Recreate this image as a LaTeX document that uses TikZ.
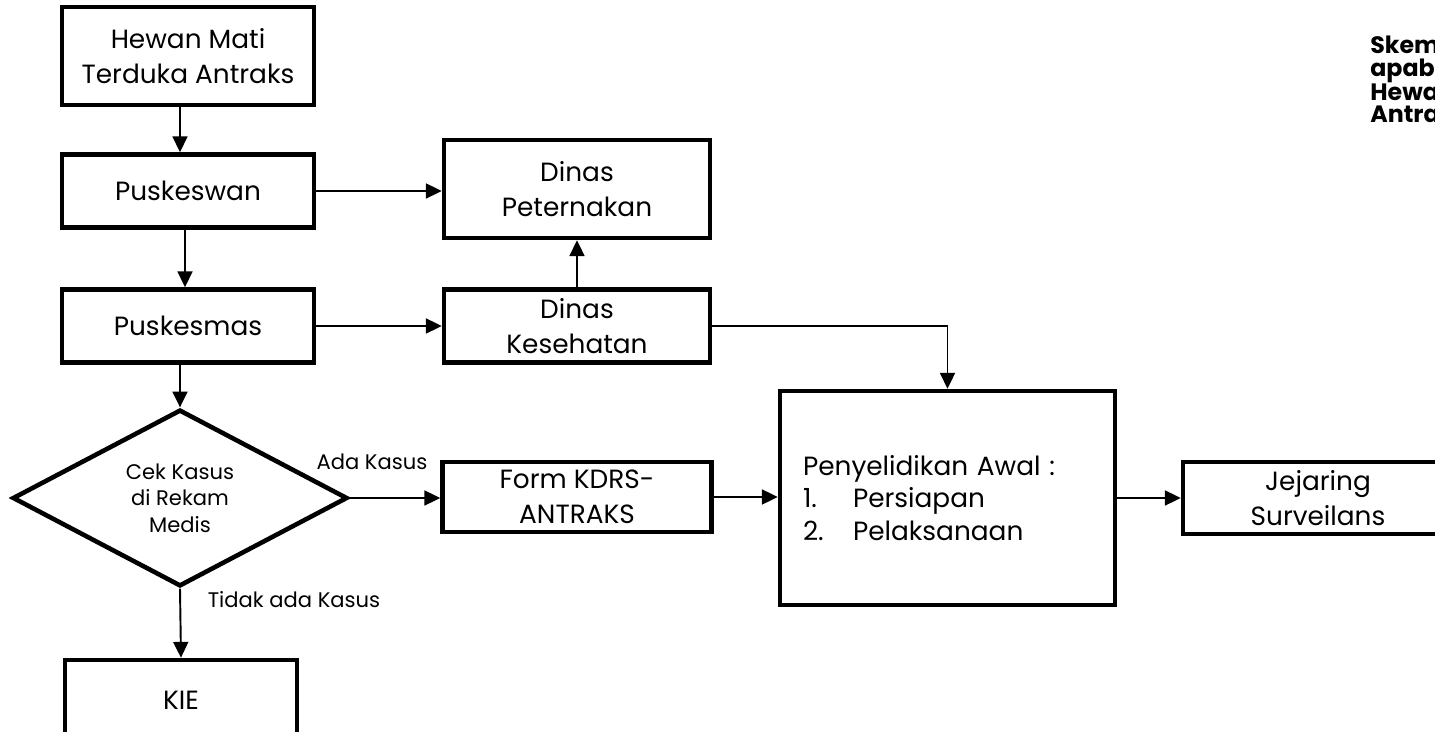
\documentclass[tikz,border=0pt]{standalone}
\usepackage{fontspec}
\setmainfont{Poppins}
\usetikzlibrary{arrows.meta,positioning,calc,shapes.geometric}

\begin{document}
\begin{tikzpicture}[
  x=0.02cm, y=-0.02cm,
  every node/.style={font=\fontsize{15}{20}\selectfont},
  box/.style={draw, line width=2.6pt, align=center, inner sep=0pt},
  decision/.style={draw, diamond, line width=2.6pt, align=center, inner sep=0pt,
    font=\fontsize{12}{15}\selectfont},
  lbl/.style={font=\fontsize{12}{15}\selectfont},
  flow/.style={-{Triangle[length=9pt,width=8.5pt]}, line width=1.1pt}
]
  % Frame
  \useasboundingbox (0,0) rectangle (1435,732);
  \clip (0,0) rectangle (1435,732);

  % Left column
  \node[box, minimum width=5.04cm, minimum height=1.96cm] (hewan) at (188,56)
    {Hewan Mati\\Terduka Antraks};
  \node[box, minimum width=5.04cm, minimum height=1.46cm] (puskeswan) at (188,191) {Puskeswan};
  \node[box, minimum width=5.04cm, minimum height=1.46cm] (puskesmas) at (188,326) {Puskesmas};
  \node[decision, minimum width=6.7cm, minimum height=2.98cm] (cek) at (180,498)
    {Cek Kasus\\di Rekam\\Medis};
  \node[box, minimum width=4.64cm, minimum height=1.6cm] (kie) at (181,700) {KIE};

  % Dinas
  \node[box, minimum width=5.32cm, minimum height=1.96cm] (peternakan) at (577,189)
    {Dinas\\Peternakan};
  \node[box, minimum width=5.32cm, minimum height=1.46cm] (kesehatan) at (577,326)
    {Dinas\\Kesehatan};

  % Follow-up
  \node[box, minimum width=5.38cm, minimum height=1.4cm] (form) at (577,497)
    {Form KDRS-\\ANTRAKS};
  \node[box, minimum width=6.7cm, minimum height=4.28cm, text width=5.78cm, align=left,
    font=\fontsize{15}{18.5}\selectfont]
    (selidik) at (947.5,498)
    {Penyelidikan Awal :\\\makebox[1cm][l]{1.}Persiapan\\\makebox[1cm][l]{2.}Pelaksanaan};
  \node[box, minimum width=5.4cm, minimum height=1.44cm] (jejaring) at (1318,498)
    {Jejaring\\Surveilans};

  % Title
  \node[anchor=north west, align=left, inner sep=0pt,
    font=\fontsize{13.5}{12.6}\selectfont\bfseries]
    (judul) at (1370,36) {Skema\\apabila\\Hewan\\Antraks};

  % Connectors
  \draw[flow] (hewan.south -| cek.north) -- (puskeswan.north -| cek.north);
  \draw[flow] ($(puskeswan.south)+(-3,0)$) -- ($(puskesmas.north)+(-3,0)$);
  \draw[flow] (puskesmas.south -| cek.north) -- (cek.north);
  \draw[flow] (puskeswan.east) -- (puskeswan.east -| peternakan.west);
  \draw[flow] (puskesmas.east) -- (kesehatan.west);
  \draw[flow] (kesehatan.north) -- (peternakan.south);
  \draw[flow] (kesehatan.east) -| (selidik.north);
  \draw[flow] (cek.east) -- (cek.east -| form.west);
  \draw[flow] (form.east) -- (form.east -| selidik.west);
  \draw[flow] (selidik.east) -- (jejaring.west);
  \draw[flow] (cek.south) -- (kie.north);

  % Branch labels
  \node[lbl] (ada) at (372,462) {Ada Kasus};
  \node[lbl] (tidak) at (294,600) {Tidak ada Kasus};
\end{tikzpicture}
\end{document}
